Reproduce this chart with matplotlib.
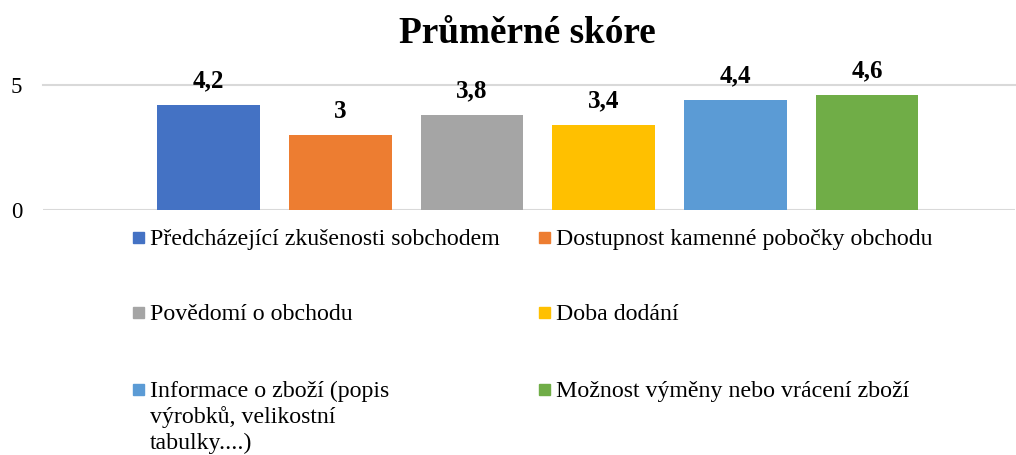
import matplotlib.pyplot as plt
from matplotlib.patches import Rectangle

categories = [
    "Předcházející zkušenosti sobchodem",
    "Dostupnost kamenné pobočky obchodu",
    "Povědomí o obchodu",
    "Doba dodání",
    "Informace o zboží (popis\nvýrobků, velikostní\ntabulky....)",
    "Možnost výměny nebo vrácení zboží",
]
scores = [4.2, 3.0, 3.8, 3.4, 4.4, 4.6]
colors = ["#4472C4", "#ED7D31", "#A5A5A5", "#FFC000", "#5B9BD5", "#70AD47"]

plt.rcParams['font.family'] = ['Liberation Serif', 'DejaVu Serif']

W, H = 1016, 455
fig = plt.figure(figsize=(W / 100, H / 100), dpi=100)
ax = fig.add_axes([43 / W, (H - 210) / H, 972 / W, 125 / H])

x = list(range(len(scores)))
ax.bar(x, scores, width=0.78, color=colors, zorder=3)
for xi, v in zip(x, scores):
    ax.annotate(f"{v:g}".replace('.', ','), (xi, v), xytext=(0, 12.5),
                textcoords='offset points', ha='center', va='baseline',
                fontsize=18, fontweight='bold', annotation_clip=False)

ax.set_xlim(-1.257, 6.124)
ax.set_ylim(0, 5)
ax.set_yticks([0, 5])
ax.set_xticks([])
ax.tick_params(axis='y', length=0, pad=15, labelsize=16.5)
for s in ax.spines.values():
    s.set_visible(False)
ax.axhline(0, color='#d9d9d9', linewidth=1.5, zorder=1)
ax.axhline(5, color='#d9d9d9', linewidth=1.5, zorder=1, clip_on=False)

fig.text(527 / W, (H - 43) / H, "Průměrné skóre", ha='center', va='baseline',
         fontsize=26.8, fontweight='bold')

# legend below the plot, two columns, wrapped lines drawn one by one
col_x = [133, 539]
row_base = [245, 320, 397]
line_h = 26
for i, (name, c) in enumerate(zip(categories, colors)):
    mx = col_x[i % 2]
    by = row_base[i // 2]
    fig.patches.append(Rectangle((mx / W, (H - by + 2) / H), 11 / W, 11 / H,
                                 transform=fig.transFigure, color=c))
    for k, line in enumerate(name.split('\n')):
        fig.text((mx + 17) / W, (H - by - k * line_h) / H, line, ha='left',
                 va='baseline', fontsize=17.2)

fig.savefig("out.png", dpi=100)
